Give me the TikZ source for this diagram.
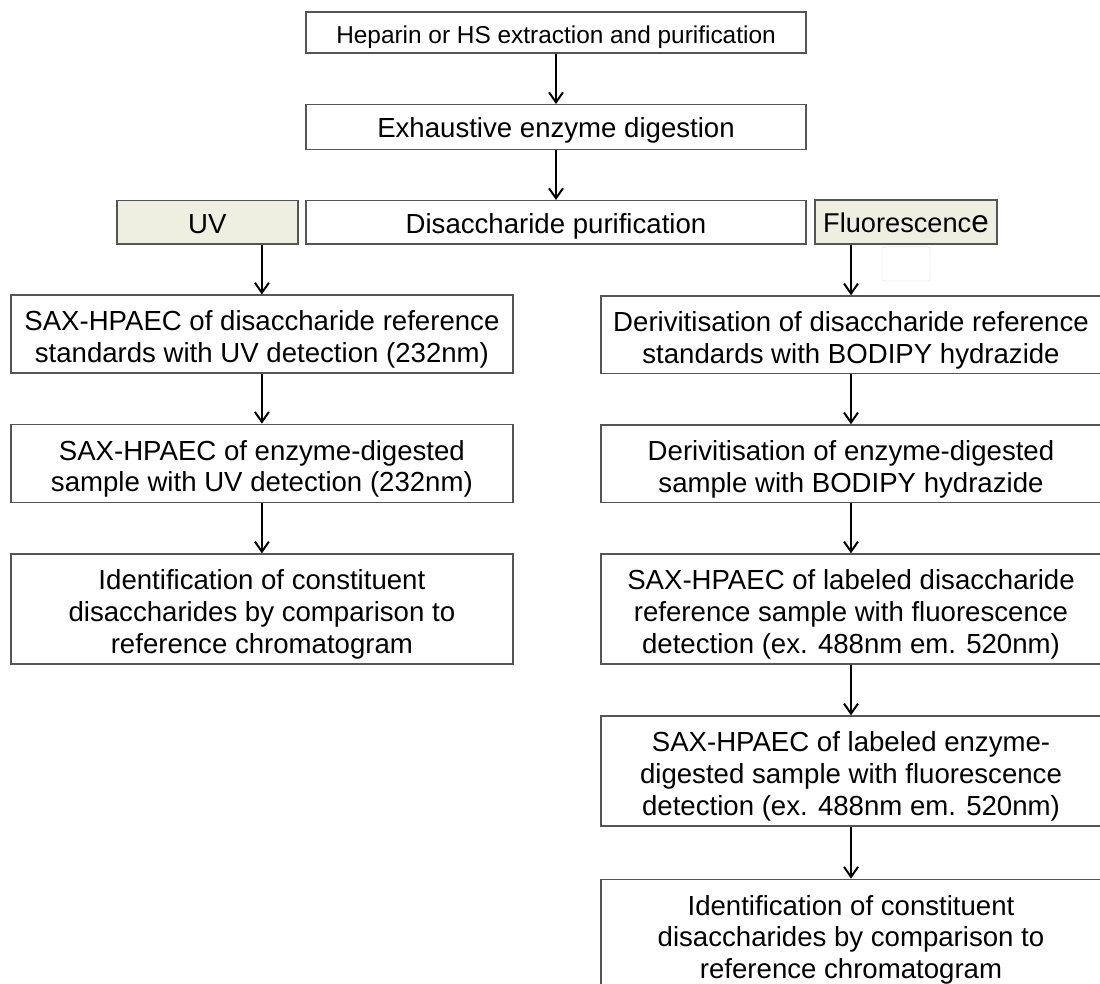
\documentclass[tikz,border=0pt]{standalone}
\usepackage{fontspec}
\setmainfont{Liberation Sans}
\usepackage{xcolor}
\usetikzlibrary{arrows.meta}

\definecolor{boxline}{RGB}{85,85,85}
\definecolor{choicefill}{RGB}{238,239,225}
\newcommand{\topstrut}{\rule{0pt}{31pt}}
\newcommand{\botstrut}{\rule[-5.5pt]{0pt}{0pt}}

\begin{document}
\begin{tikzpicture}[x=1pt, y=-1pt, >={Straight Barb[length=10pt,width=14pt]},
    stepbox/.style={draw=boxline, line width=1.3pt, fill=white, inner sep=0pt, align=center,
        font=\fontsize{27.6}{31.7}\selectfont},
    oneline/.style={stepbox, text height=27pt, text depth=5.5pt},
    choice/.style={oneline, fill=choicefill},
    link/.style={->, line width=2pt}]
    \useasboundingbox (0,0) rectangle (1100,984);
    \clip (0,0) rectangle (1100,984);

    \node[oneline, minimum width=500pt, minimum height=41pt, font=\fontsize{24.4}{28}\selectfont] (hep) at (556,32.5) {Heparin or HS extraction and purification};
    \node[oneline, minimum width=500pt, minimum height=44.6pt] (dig) at (556,127) {Exhaustive enzyme digestion};
    \node[oneline, minimum width=500pt, minimum height=43.5pt] (pur) at (556,222.4) {Disaccharide purification};
    \node[choice, minimum width=181pt, minimum height=43.5pt] (uv) at (207.4,222.4) {UV};
    \node[choice, minimum width=182pt, minimum height=44pt, font=\fontsize{27.2}{31}\selectfont] (fl) at (906,222) {Fluorescenc{\fontsize{31.5}{31}\selectfont e}};
    \draw[black!7, line width=0.8pt, rounded corners=2pt] (882,247) rectangle (930,281);

    \node[stepbox, minimum width=502pt, minimum height=77.7pt] (u1) at (261.9,334) {\topstrut SAX-HPAEC of disaccharide reference\\standards with UV detection (232nm)\botstrut};
    \node[stepbox, minimum width=502pt, minimum height=78pt] (u2) at (261.9,463.3) {\topstrut SAX-HPAEC of enzyme-digested\\sample with UV detection (232nm)\botstrut};
    \node[stepbox, minimum width=502pt, minimum height=110pt] (u3) at (261.9,609) {\topstrut Identification of constituent\\disaccharides by comparison to\\reference chromatogram\botstrut};

    \node[stepbox, minimum width=500pt, minimum height=77.3pt] (f1) at (851,334.6) {\topstrut Derivitisation of disaccharide reference\\standards with BODIPY hydrazide\botstrut};
    \node[stepbox, minimum width=500pt, minimum height=77.3pt] (f2) at (851,463.6) {\topstrut Derivitisation of enzyme-digested\\sample with BODIPY hydrazide\botstrut};
    \node[stepbox, minimum width=500pt, minimum height=110pt] (f3) at (851,609) {\topstrut SAX-HPAEC of labeled disaccharide\\reference sample with fluorescence\\detection (ex. 488nm em. 520nm)\botstrut};
    \node[stepbox, minimum width=500pt, minimum height=110pt] (f4) at (851,771) {\topstrut SAX-HPAEC of labeled enzyme-\\digested sample with fluorescence\\detection (ex. 488nm em. 520nm)\botstrut};
    \node[stepbox, minimum width=500pt, minimum height=110pt] (f5) at (851,934.3) {\topstrut Identification of constituent\\disaccharides by comparison to\\reference chromatogram\botstrut};

    \foreach \a/\b in {hep/dig, dig/pur, u1/u2, u2/u3, f1/f2, f2/f3, f3/f4, f4/f5}
        \draw[link] (\a) -- (\b);
    \draw[link] (uv.south -| u1.north) -- (u1.north);
    \draw[link] (fl.south -| f1.north) -- (f1.north);
\end{tikzpicture}
\end{document}
